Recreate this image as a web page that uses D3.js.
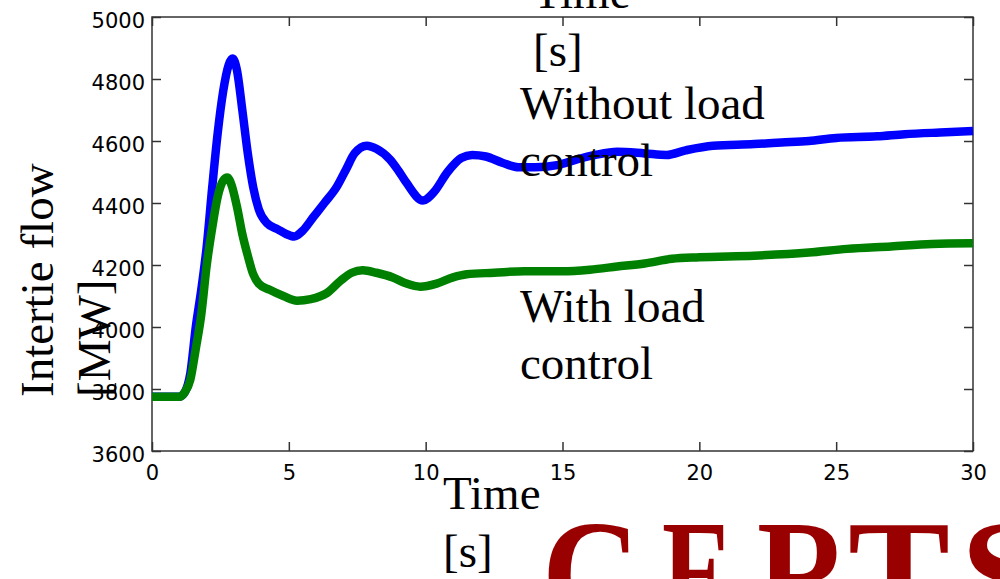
<!DOCTYPE html>
<html>
<head>
<meta charset="utf-8">
<script src="https://cdn.jsdelivr.net/npm/d3@7"></script>
<style>
  html, body { margin: 0; padding: 0; background: #fff; }
  svg { display: block; }
</style>
</head>
<body>
<svg id="chart" width="1000" height="579"></svg>
<script>
// ---- data ----
const withoutTime = [0, 1.0, 1.2, 1.4, 1.6, 1.8, 2.0, 2.2, 2.4, 2.6, 2.8, 2.95, 3.1, 3.3, 3.5, 3.7, 3.9, 4.2, 4.6, 4.9, 5.2, 5.5, 5.9, 6.3, 6.75, 7.1, 7.4, 7.85, 8.2, 8.7, 9.0, 9.3, 9.9, 10.3, 10.8, 11.3, 11.7, 12.2, 12.8, 13.4, 14.0, 14.8, 15.5, 16.2, 17.0, 18.0, 18.8, 19.5, 20.5, 22.0, 23.0, 24.0, 25.0, 26.5, 27.5, 29.0, 30];
const withoutFlow = [3775, 3775, 3790, 3850, 4000, 4120, 4260, 4450, 4625, 4760, 4845, 4866, 4830, 4700, 4560, 4450, 4380, 4335, 4315, 4300, 4292, 4310, 4355, 4400, 4452, 4510, 4560, 4585, 4575, 4540, 4505, 4465, 4408, 4435, 4500, 4545, 4555, 4550, 4530, 4515, 4515, 4522, 4540, 4555, 4565, 4560, 4555, 4570, 4585, 4590, 4595, 4600, 4610, 4615, 4622, 4628, 4632];

const withTime = [0, 1.0, 1.2, 1.4, 1.6, 1.8, 2.0, 2.2, 2.4, 2.6, 2.75, 2.9, 3.1, 3.3, 3.5, 3.7, 3.9, 4.3, 4.8, 5.3, 5.8, 6.4, 6.9, 7.3, 7.7, 8.2, 8.8, 9.3, 9.8, 10.4, 11.0, 11.5, 12.5, 13.6, 15.0, 16.0, 17.0, 18.0, 19.0, 20.0, 22.0, 24.0, 25.4, 27.0, 28.5, 30];
const withFlow = [3775, 3775, 3790, 3830, 3930, 4040, 4200, 4320, 4420, 4472, 4482, 4460, 4390, 4300, 4230, 4170, 4140, 4120, 4100, 4085, 4090, 4110, 4150, 4175, 4183, 4175, 4160, 4140, 4130, 4140, 4160, 4170, 4175, 4180, 4180, 4185, 4195, 4205, 4220, 4225, 4230, 4240, 4252, 4260, 4268, 4270];

const xTicks = [0, 5, 10, 15, 20, 25, 30];
const yTicks = [3600, 3800, 4000, 4200, 4400, 4600, 4800, 5000];

const axisTitleLines = ["Time", "[s]"];
const yTitleLines = ["Intertie flow", "[MW]"];
const withoutLabel = ["Without load", "control"];
const withLabel = ["With load", "control"];
const logoLetters = ["C", "E", "R", "T", "S"];

// ---- layout ----
const L = 152, R = 973, T = 17, B = 451;
const svg = d3.select("#chart");

const x = d3.scaleLinear().domain([0, 30]).range([L, R]);
const y = d3.scaleLinear().domain([3600, 5000]).range([B, T]);

const tickFont = "'DejaVu Sans', sans-serif";
const serif = "'Liberation Serif', 'Times New Roman', serif";
const frameColor = "#333";

// axes with inward ticks
const gL = svg.append("g").attr("transform", `translate(${L},0)`)
  .call(d3.axisLeft(y).tickValues(yTicks).tickSize(-9).tickPadding(7).tickFormat(d3.format("d")));
const gB = svg.append("g").attr("transform", `translate(0,${B})`)
  .call(d3.axisBottom(x).tickValues(xTicks).tickSize(-9).tickPadding(14).tickFormat(d3.format("d")));
const gR = svg.append("g").attr("transform", `translate(${R},0)`)
  .call(d3.axisRight(y).tickValues(yTicks).tickSize(-9).tickFormat(""));
const gT = svg.append("g").attr("transform", `translate(0,${T})`)
  .call(d3.axisTop(x).tickValues(xTicks).tickSize(-9).tickFormat(""));

[gL, gB, gR, gT].forEach(g => {
  g.select(".domain").remove();
  g.selectAll(".tick line").attr("stroke", frameColor).attr("stroke-width", 1.5);
  g.selectAll("text").attr("font-family", tickFont).attr("font-size", 21).attr("fill", "#000");
});
gL.selectAll("text").attr("dy", "0.52em");
gB.selectAll("text").attr("dy", "0.71em");

// frame
svg.append("rect")
  .attr("x", L).attr("y", T).attr("width", R - L).attr("height", B - T)
  .attr("fill", "none").attr("stroke", frameColor).attr("stroke-width", 1.5);

// lines
const line = d3.line().x(d => x(d[0])).y(d => y(d[1])).curve(d3.curveMonotoneX);
const blueData = withoutTime.map((t, i) => [t, withoutFlow[i]]);
const greenData = withTime.map((t, i) => [t, withFlow[i]]);

svg.append("path").datum(blueData)
  .attr("d", line).attr("fill", "none").attr("stroke", "#0000ff")
  .attr("stroke-width", 8.5).attr("stroke-linejoin", "round").attr("stroke-linecap", "butt");
svg.append("path").datum(greenData)
  .attr("d", line).attr("fill", "none").attr("stroke", "#008000")
  .attr("stroke-width", 8.5).attr("stroke-linejoin", "round").attr("stroke-linecap", "butt");

// text helpers
function multiLine(lines, x0, y0, step, size) {
  const t = svg.append("text").attr("font-family", serif).attr("font-size", size).attr("fill", "#000");
  lines.forEach((s, i) => t.append("tspan").attr("x", x0).attr("y", y0 + i * step).text(s));
  return t;
}

// x-axis title (bottom) and duplicated one at top
multiLine(axisTitleLines, 443, 509, 58, 47);
multiLine(axisTitleLines, 533, 8, 58, 47);

// y-axis title rotated
yTitleLines.forEach((s, i) => {
  svg.append("text").attr("font-family", serif).attr("font-size", 47).attr("fill", "#000")
    .attr("transform", `translate(${53 + i * 57},397) rotate(-90)`)
    .text(s);
});

// series labels
multiLine(withoutLabel, 520, 119, 57, 47);
multiLine(withLabel, 520, 322, 57, 47);

// CERTS logo
const logoX = [542, 662, 757, 848, 960];
const logoW = [98, 71, 93, 102, 92];
logoLetters.forEach((c, i) => {
  svg.append("text").attr("font-family", serif).attr("font-size", 150)
    .attr("font-weight", "bold").attr("fill", "#990000")
    .attr("x", logoX[i]).attr("y", 624)
    .attr("textLength", logoW[i]).attr("lengthAdjust", "spacingAndGlyphs")
    .text(c);
});
</script>
</body>
</html>
